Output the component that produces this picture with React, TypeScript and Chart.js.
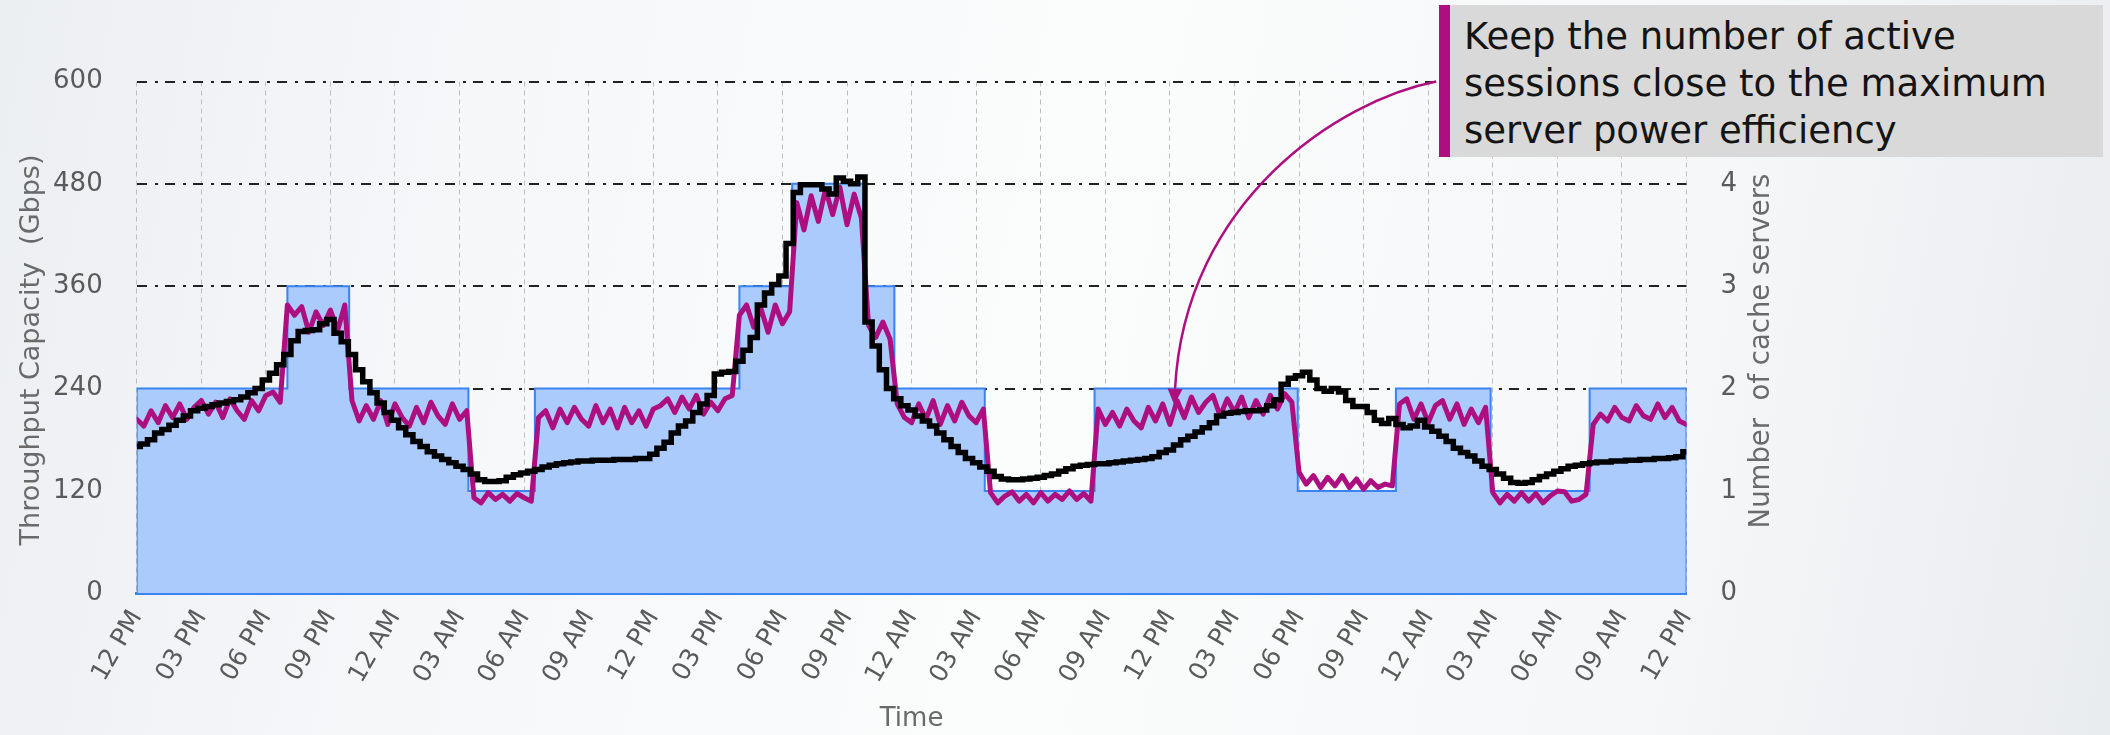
import React, { useEffect, useRef } from 'react';
import { Chart, registerables } from 'chart.js';

Chart.register(...registerables);

// ---------- data ----------
const tickLabels = [
  '12 PM', '03 PM', '06 PM', '09 PM', '12 AM', '03 AM', '06 AM', '09 AM',
  '12 PM', '03 PM', '06 PM', '09 PM', '12 AM', '03 AM', '06 AM', '09 AM',
  '12 PM', '03 PM', '06 PM', '09 PM', '12 AM', '03 AM', '06 AM', '09 AM',
  '12 PM',
];

// hours since the first 12 PM where the capacity (Gbps) changes
const capacityTimes = [0, 0, 7.0, 9.87, 15.41, 18.5, 28.0, 30.45, 33.8, 35.2, 39.4, 44.5, 53.94, 58.5, 62.9, 67.5, 72, 72];
const capacityValues = [0, 240, 360, 240, 120, 240, 360, 480, 360, 240, 120, 240, 120, 240, 120, 240, 240, 0];

// samples every 20 minutes (hour 0 .. 72)
const sampleTimes = Array.from({ length: 217 }, (_, i) => i / 3);

const magentaValues = [
  // 0 - 6.7h
  204, 196, 214, 200, 220, 206, 222, 204, 218, 226, 210, 224, 206, 228, 214, 204, 226, 214, 232, 236, 224,
  // 7 - 10h
  338, 326, 336, 306, 330, 314, 332, 308, 338, 226,
  // 10.3 - 15.3h
  202, 220, 204, 226, 198, 222, 206, 196, 218, 200, 224, 208, 198, 222, 204, 214,
  // 15.7 - 18.3h
  112, 106, 118, 110, 116, 108, 117, 112, 108,
  // 18.7 - 27.7h
  206, 214, 194, 216, 200, 218, 204, 196, 220, 200, 216, 194, 218, 200, 214, 196, 216, 220, 228, 212, 230, 216, 232, 210, 224, 214, 228, 232,
  // 28 - 30.3h
  326, 338, 312, 334, 306, 338, 316, 330,
  // 30.7 - 33.7h
  458, 426, 466, 436, 474, 444, 476, 432, 468, 440,
  // 34 - 35h
  314, 300, 318, 298,
  // 35.3 - 39.3h
  222, 206, 200, 222, 204, 226, 198, 220, 202, 224, 208, 200, 216,
  // 39.7 - 44.3h
  118, 106, 114, 119, 108, 116, 106, 118, 108, 116, 110, 120, 110, 117, 108,
  // 44.7 - 53.7h
  216, 198, 212, 196, 216, 202, 194, 218, 202, 222, 198, 226, 206, 230, 212, 224, 232, 208, 228, 212, 230, 206, 226, 210, 232, 216, 234, 224,
  // 54 - 58.3h
  142, 128, 138, 124, 136, 126, 138, 124, 134, 122, 132, 124, 128, 126,
  // 58.7 - 62.7h
  222, 228, 204, 222, 200, 220, 226, 204, 222, 198, 216, 200, 218,
  // 63 - 67.3h
  118, 106, 116, 108, 118, 108, 117, 106, 114, 120, 119, 108, 110, 116,
  // 67.7 - 72h
  198, 210, 202, 218, 206, 202, 220, 208, 204, 222, 206, 218, 202, 198,
];

const blackValues = [
  172, 175, 180, 188, 192, 197, 203, 208, 214, 217, 219, 221,
  223, 225, 227, 230, 235, 240, 250, 258, 268, 280, 296, 307,
  308, 309, 316, 321, 305, 295, 280, 262, 248, 235, 223, 212,
  203, 194, 186, 178, 172, 166, 161, 157, 153, 149, 145, 140,
  133, 131, 131, 132, 136, 139, 141, 143, 145, 148, 150, 152,
  153, 154, 155, 155, 156, 156, 156, 157, 157, 157, 158, 158,
  163, 170, 177, 188, 196, 202, 212, 222, 232, 257, 259, 260,
  272, 285, 300, 338, 352, 362, 372, 410, 470, 479, 479, 479,
  474, 468, 487, 483, 480, 488, 318, 290, 262, 240, 228, 220,
  215, 208, 202, 196, 188, 180, 172, 165, 158, 153, 148, 143,
  137, 134, 133, 133, 134, 135, 136, 138, 140, 143, 146, 149,
  150, 151, 152, 152, 153, 154, 155, 156, 157, 158, 160, 165,
  168, 174, 180, 184, 189, 194, 200, 208, 211, 212, 213, 214,
  214, 215, 220, 227, 245, 252, 255, 259, 250, 240, 237, 240,
  236, 226, 219, 219, 212, 203, 199, 205, 198, 194, 196, 203,
  195, 190, 184, 178, 170, 165, 161, 155, 149, 145, 140, 135,
  130, 129, 130, 133, 137, 140, 143, 146, 149, 150, 152, 153,
  154, 154, 155, 155, 156, 156, 157, 157, 158, 158, 159, 160,
  166,
];

// annotation arrow, in (hour, Gbps)
const arrowStart = { x: 60.37, y: 600 };
const arrowCtrl1 = { x: 55.9, y: 578 };
const arrowCtrl2 = { x: 48.7, y: 461 };
const arrowTip = { x: 48.2, y: 221 };

const annotationLines = [
  'Keep the number of active',
  'sessions close to the maximum',
  'server power efficiency',
];

const leftTitle = 'Throughput Capacity  (Gbps)';
const rightTitle = 'Number  of cache servers';
const xTitle = 'Time';

// ---------- style ----------
const MAGENTA = '#ae0f80';
const FONT = "'DejaVu Sans', sans-serif";
const TICK_COLOR = '#5a5a5a';
const TITLE_COLOR = '#6a6a6a';

const W = 2110;
const H = 735;
const AREA_LEFT = 136.7;
const AREA_RIGHT = 1686.5;
const AREA_TOP = 81.5;
const AREA_BOTTOM = 593.3;
const PAD_LEFT = 12;
const Y2_WIDTH = 97;

const overlayPlugin = {
  id: 'overlay',
  afterDraw(chart: any) {
    const { ctx } = chart;
    const x = chart.scales.x;
    const y = chart.scales.y;

    // rotated axis titles (both read bottom-to-top)
    ctx.save();
    ctx.fillStyle = TITLE_COLOR;
    ctx.font = `27px ${FONT}`;
    ctx.textAlign = 'center';
    ctx.textBaseline = 'middle';
    ctx.translate(32, 350);
    ctx.rotate(-Math.PI / 2);
    ctx.fillText(leftTitle, 0, 0);
    ctx.restore();

    ctx.save();
    ctx.fillStyle = TITLE_COLOR;
    ctx.font = `27.5px ${FONT}`;
    ctx.textAlign = 'center';
    ctx.textBaseline = 'middle';
    ctx.translate(1762, 351);
    ctx.rotate(-Math.PI / 2);
    ctx.fillText(rightTitle, 0, 0);
    ctx.restore();

    // curved arrow
    const px = (p: { x: number; y: number }) => [x.getPixelForValue(p.x), y.getPixelForValue(p.y)];
    const p0 = px(arrowStart);
    const p1 = px(arrowCtrl1);
    const p2 = px(arrowCtrl2);
    const tip = px(arrowTip);
    const headLen = 16;
    const headW = 7.5;
    const dx = tip[0] - p2[0];
    const dy = tip[1] - p2[1];
    const len = Math.hypot(dx, dy);
    const ux = dx / len;
    const uy = dy / len;
    const base = [tip[0] - ux * headLen, tip[1] - uy * headLen];
    ctx.save();
    ctx.strokeStyle = MAGENTA;
    ctx.lineWidth = 2.5;
    ctx.beginPath();
    ctx.moveTo(p0[0], p0[1]);
    ctx.bezierCurveTo(p1[0], p1[1], p2[0], p2[1], base[0], base[1]);
    ctx.stroke();
    ctx.fillStyle = MAGENTA;
    ctx.beginPath();
    ctx.moveTo(tip[0], tip[1]);
    ctx.lineTo(base[0] - uy * headW, base[1] + ux * headW);
    ctx.lineTo(base[0] + uy * headW, base[1] - ux * headW);
    ctx.closePath();
    ctx.fill();
    ctx.restore();
  },
};

export default function App() {
  const canvasRef = useRef<HTMLCanvasElement | null>(null);

  useEffect(() => {
    if (!canvasRef.current) return;
    const chart = new Chart(canvasRef.current, {
      type: 'line',
      data: {
        datasets: [
          {
            label: 'Active sessions',
            data: sampleTimes.map((t, i) => ({ x: t, y: blackValues[i] })),
            borderColor: '#000000',
            borderWidth: 5.5,
            pointRadius: 0,
            stepped: 'middle',
            fill: false,
            order: 0,
            yAxisID: 'y',
          },
          {
            label: 'Throughput',
            data: sampleTimes.map((t, i) => ({ x: t, y: magentaValues[i] })),
            borderColor: MAGENTA,
            borderWidth: 5,
            borderJoinStyle: 'round',
            borderCapStyle: 'round',
            pointRadius: 0,
            tension: 0,
            fill: false,
            order: 1,
            yAxisID: 'y',
          },
          {
            label: 'Capacity',
            data: capacityTimes.map((t, i) => ({ x: t, y: capacityValues[i] })),
            borderColor: '#3a84f2',
            borderWidth: 2,
            backgroundColor: '#abcbfc',
            fill: 'origin',
            stepped: true,
            pointRadius: 0,
            order: 2,
            yAxisID: 'y',
          },
        ],
      },
      options: {
        animation: false,
        responsive: false,
        devicePixelRatio: 1,
        layout: {
          padding: {
            left: PAD_LEFT,
            right: W - AREA_RIGHT - Y2_WIDTH,
            top: AREA_TOP,
            bottom: 0,
          },
        },
        plugins: {
          legend: { display: false },
          tooltip: { enabled: false },
        },
        scales: {
          x: {
            type: 'linear',
            min: 0,
            max: 72,
            afterFit: (s: any) => { s.height = H - AREA_BOTTOM; },
            ticks: {
              stepSize: 3,
              autoSkip: false,
              minRotation: 60,
              maxRotation: 60,
              padding: 12,
              color: TICK_COLOR,
              font: { family: FONT, size: 25 },
              callback: (v: any) => tickLabels[Math.round(Number(v) / 3)] ?? '',
            },
            grid: { color: '#bdbdbd', lineWidth: 1, drawTicks: false },
            border: { display: true, color: '#3a84f2', width: 3, dash: [5, 4] },
            title: {
              display: true,
              text: xTitle,
              color: TITLE_COLOR,
              font: { family: FONT, size: 26 },
              padding: { top: 0, bottom: 0 },
            },
          },
          y: {
            type: 'linear',
            position: 'left',
            min: 0,
            max: 600,
            afterFit: (s: any) => { s.width = AREA_LEFT - PAD_LEFT; },
            ticks: {
              stepSize: 120,
              padding: 34,
              color: TICK_COLOR,
              font: { family: FONT, size: 26 },
            },
            grid: { color: '#222222', lineWidth: 2, drawTicks: false },
            border: { display: false, dash: [10, 8, 3, 7] },
            title: { display: false },
          },
          y2: {
            type: 'linear',
            position: 'right',
            min: 0,
            max: 5,
            afterFit: (s: any) => { s.width = Y2_WIDTH; },
            ticks: {
              stepSize: 1,
              padding: 34,
              color: TICK_COLOR,
              font: { family: FONT, size: 26 },
              callback: (v: any) => (Number(v) <= 4 ? String(v) : ''),
            },
            grid: { display: false, drawTicks: false },
            border: { display: false },
            title: { display: false },
          },
        },
      } as any,
      plugins: [overlayPlugin],
    });
    return () => chart.destroy();
  }, []);

  return (
    <div
      style={{
        position: 'absolute',
        left: 0,
        top: 0,
        width: W,
        height: H,
        overflow: 'hidden',
        background:
          'linear-gradient(100deg, #eceff2 0%, #f5f7f9 22%, #fbfcfc 50%, #f5f7f8 78%, #e9ecef 100%)',
      }}
    >
      <canvas ref={canvasRef} width={W} height={H} style={{ display: 'block', position: 'absolute', left: 0, top: 0 }} />
      <div
        style={{
          position: 'absolute',
          left: 1439,
          top: 5,
          width: 664,
          height: 152,
          boxSizing: 'border-box',
          background: '#d9d9d9',
          borderLeft: `11px solid ${MAGENTA}`,
          padding: '8px 0 0 14px',
          fontFamily: FONT,
          fontSize: 37,
          lineHeight: '47px',
          color: '#141414',
          whiteSpace: 'nowrap',
        }}
      >
        {annotationLines.map((l) => (
          <div key={l}>{l}</div>
        ))}
      </div>
    </div>
  );
}
